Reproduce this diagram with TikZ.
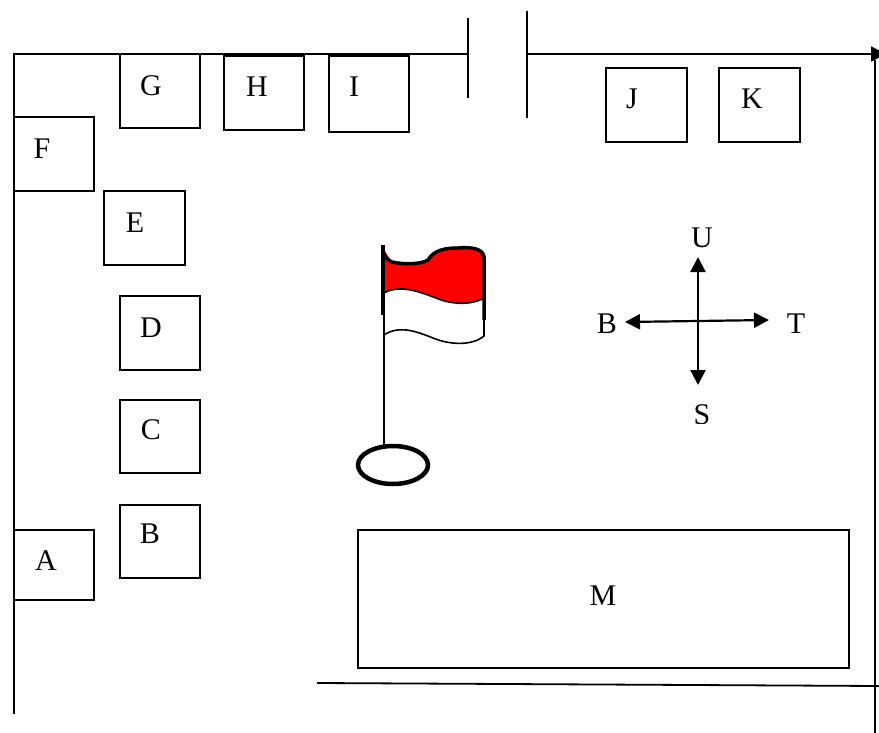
\documentclass[tikz,border=0pt]{standalone}
\usepackage{fontspec}
\setmainfont{Liberation Serif}
\usetikzlibrary{arrows.meta,shapes.geometric}

\begin{document}
\begin{tikzpicture}[x=1pt, y=-1pt, line width=1.6pt,
	room node/.style={rectangle,draw,anchor=north west,inner sep=0pt,outer sep=0pt},
	name node/.style={font=\fontsize{30}{30}\selectfont,inner sep=0pt},
	wall/.style={line width=1.8pt},
	wind/.style={line width=2.2pt,-{Triangle[length=15pt,width=15pt]}}]
	
	\useasboundingbox (0,0) rectangle (879,733);
	
	\node[room node,minimum width=80pt,minimum height=70pt] (a) at (14,530) {};
	\node[room node,minimum width=80pt,minimum height=73pt] (b) at (120,505) {};
	\node[room node,minimum width=80pt,minimum height=73pt] (c) at (120,400) {};
	\node[room node,minimum width=80pt,minimum height=74pt] (d) at (120,296) {};
	\node[room node,minimum width=81pt,minimum height=74pt] (e) at (104,191) {};
	\node[room node,minimum width=80pt,minimum height=74pt] (f) at (14,117) {};
	\node[room node,minimum width=80pt,minimum height=74pt] (g) at (120,54) {};
	\node[room node,minimum width=80pt,minimum height=74pt] (h) at (224,56) {};
	\node[room node,minimum width=80pt,minimum height=76pt] (i) at (329,56) {};
	\node[room node,minimum width=81pt,minimum height=74pt] (j) at (606,68) {};
	\node[room node,minimum width=81pt,minimum height=74pt] (k) at (719,68) {};
	\node[room node,minimum width=491pt,minimum height=138pt] (m) at (358,530) {};
	
	\node[name node] (la) at (46,561) {A};
	\node[name node] (lb) at (150,534) {B};
	\node[name node] (lc) at (151,430) {C};
	\node[name node] (ld) at (151,328) {D};
	\node[name node] (le) at (135,223) {E};
	\node[name node] (lf) at (42,149) {F};
	\node[name node] (lg) at (151,86) {G};
	\node[name node] (lh) at (257,87) {H};
	\node[name node] (li) at (354,87) {I};
	\node[name node] (lj) at (632,99) {J};
	\node[name node] (lk) at (752,99) {K};
	\node[name node] (lm) at (603,596) {M};
	
	% fence and gate
	\coordinate (corner) at (14,54);
	\coordinate (foot) at (14,714);
	\coordinate (gateleft) at (468,54);
	\coordinate (gateright) at (527,54);
	\coordinate (farright) at (886,54);
	\draw[wall] (foot) -- (corner) -- (gateleft);
	\draw[wall,-{Triangle[length=15pt,width=15pt]}] (gateright) -- (farright);
	\draw[wall] (468,18) -- (468,98);
	\draw[wall] (527,11) -- (527,118);
	\draw[wall] (875,60) -- (875,733);
	\draw[wall] (317,683) -- (879,686);
	
	% flag
	\fill[red] (384,250) -- (392,262) .. controls (405,265) and (422,264) .. (428,260)
	.. controls (434,250) and (445,248) .. (458,248)
	.. controls (470,247) and (483,248) .. (484,257) -- (484,298)
	.. controls (470,306) and (450,304) .. (436,298)
	.. controls (420,292) and (400,284) .. (384,293) -- cycle;
	\draw[line width=1.6pt] (384,293) .. controls (400,284) and (420,292) .. (436,298)
	.. controls (450,304) and (470,306) .. (484,298);
	\draw[line width=1.6pt] (384,335) .. controls (400,324) and (420,333) .. (433,338)
	.. controls (450,345) and (472,346) .. (484,336) -- (484,318);
	\draw[line width=3.5pt] (383,250) .. controls (384,256) and (387,260) .. (392,262)
	.. controls (405,265) and (422,264) .. (428,260)
	.. controls (434,250) and (445,248) .. (458,248)
	.. controls (470,247) and (483,248) .. (484,257) -- (484,320);
	\draw[line width=3.5pt] (383,245) -- (383,315);
	\draw[line width=1.6pt] (384,315) -- (384,446);
	\node[draw,ellipse,line width=4.5pt,minimum width=70pt,minimum height=38pt,inner sep=0pt] (base) at (393,465) {};
	
	% compass
	\coordinate (mid) at (698,321);
	\coordinate (north) at (698,257);
	\coordinate (south) at (698,385);
	\coordinate (west) at (625,322);
	\coordinate (east) at (769,320);
	\draw[wind] (mid) -- (north);
	\draw[wind] (mid) -- (south);
	\draw[wind] (mid) -- (west);
	\draw[wind] (mid) -- (east);
	
	\node[name node] (lu) at (702,238) {U};
	\node[name node] (lbarat) at (607,324) {B};
	\node[name node] (lt) at (796,324) {T};
	\begin{scope}
	\clip (680,400) rectangle (725,423);
	\node[name node] (ls) at (702,415) {S};
	\end{scope}
\end{tikzpicture}
\end{document}
